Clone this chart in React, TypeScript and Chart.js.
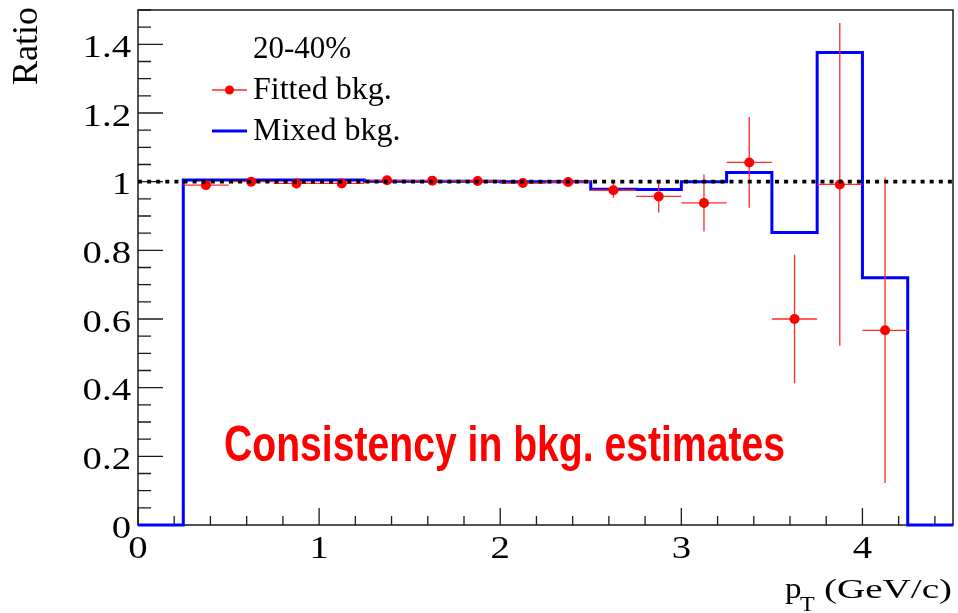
import React, { useEffect, useRef } from "react";
import { Chart, registerables } from "chart.js";

Chart.register(...registerables);

// ---- Data ----
const binEdges = [0, 0.25, 0.5, 0.75, 1.0, 1.25, 1.5, 1.75, 2.0, 2.25, 2.5, 2.75, 3.0, 3.25, 3.5, 3.75, 4.0, 4.25, 4.5];
const mixedBkg = [0, 1.005, 1.005, 1.005, 1.005, 1.001, 1.001, 1.001, 1.0, 1.0, 0.978, 0.977, 1.0, 1.027, 0.852, 1.376, 0.72, 0];

const ptCenters = [0.375, 0.625, 0.875, 1.125, 1.375, 1.625, 1.875, 2.125, 2.375, 2.625, 2.875, 3.125, 3.375, 3.625, 3.875, 4.125];
const ptHalfWidth = [0.125, 0.125, 0.125, 0.125, 0.125, 0.125, 0.125, 0.125, 0.125, 0.125, 0.125, 0.125, 0.125, 0.125, 0.125, 0.125];
const fittedBkg = [0.99, 1.0, 0.995, 0.995, 1.004, 1.003, 1.002, 0.996, 0.999, 0.975, 0.957, 0.938, 1.056, 0.6, 0.992, 0.567];
const fittedErr = [0.006, 0.004, 0.004, 0.004, 0.008, 0.005, 0.006, 0.007, 0.01, 0.022, 0.047, 0.083, 0.132, 0.187, 0.47, 0.445];

const xTickLabels = ["0", "1", "2", "3", "4"];
const yTickLabels = ["0", "0.2", "0.4", "0.6", "0.8", "1", "1.2", "1.4"];
const referenceLevel = [1, 1];
const referenceX = [0, 4.5];

const legendHeader = "20-40%";
const legendFitted = "Fitted bkg.";
const legendMixed = "Mixed bkg.";
const annotation = "Consistency in bkg. estimates";

const SERIF = '"Liberation Serif", "Times New Roman", serif';
const SANS = '"Liberation Sans", Arial, sans-serif';

function drawText(
  ctx: CanvasRenderingContext2D,
  text: string,
  x: number,
  y: number,
  font: string,
  color: string,
  align: "left" | "right" | "center",
  sx = 1,
  fitWidth?: number
) {
  ctx.save();
  ctx.font = font;
  ctx.fillStyle = color;
  ctx.textBaseline = "alphabetic";
  ctx.textAlign = "left";
  const raw = ctx.measureText(text).width;
  const scale = fitWidth ? fitWidth / raw : sx;
  const w = raw * scale;
  const left = align === "right" ? x - w : align === "center" ? x - w / 2 : x;
  ctx.translate(left, y);
  ctx.scale(scale, 1);
  ctx.fillText(text, 0, 0);
  ctx.restore();
}

const axisPlugin = {
  id: "rootAxes",
  beforeDatasetsDraw(chart: any) {
    const { ctx, chartArea: a, scales } = chart;
    const xs = scales.x;
    const ys = scales.y;
    ctx.save();
    ctx.strokeStyle = "#1a1a1a";
    ctx.lineWidth = 1.5;
    ctx.strokeRect(a.left, a.top, a.right - a.left, a.bottom - a.top);

    // y ticks (inward)
    ctx.lineWidth = 1.3;
    ctx.beginPath();
    for (let k = 0; k <= 30; k++) {
      const v = k * 0.05;
      const py = ys.getPixelForValue(v);
      const len = k % 4 === 0 ? 25 : 13;
      ctx.moveTo(a.left, py);
      ctx.lineTo(a.left + len, py);
    }
    // x ticks (inward)
    for (let k = 0; k <= 22; k++) {
      const v = k * 0.2;
      const px = xs.getPixelForValue(v);
      const len = k % 5 === 0 ? 17 : 9;
      ctx.moveTo(px, a.bottom);
      ctx.lineTo(px, a.bottom - len);
    }
    ctx.stroke();
    ctx.restore();

    // tick labels
    yTickLabels.forEach((lab) => {
      const py = ys.getPixelForValue(Number(lab));
      drawText(ctx, lab, 131, py + 12.5, `31px ${SERIF}`, "#000", "right", 1.25);
    });
    xTickLabels.forEach((lab) => {
      const px = xs.getPixelForValue(Number(lab));
      drawText(ctx, lab, px, 558, `31px ${SERIF}`, "#000", "center", 1.25);
    });

    // y title
    ctx.save();
    ctx.translate(37, 7);
    ctx.rotate(-Math.PI / 2);
    ctx.font = `36px ${SERIF}`;
    ctx.fillStyle = "#000";
    ctx.textAlign = "right";
    ctx.textBaseline = "alphabetic";
    ctx.fillText("Ratio", 0, 0);
    ctx.restore();

    // x title
    drawText(ctx, "p", 785, 598, `30px ${SERIF}`, "#000", "left", 1.1);
    drawText(ctx, "T", 800, 611, `20px ${SERIF}`, "#000", "left", 1.2);
    drawText(ctx, "(GeV/c)", 824, 598, `28px ${SERIF}`, "#000", "left", 1, 128);
  },
  afterDatasetDraw(chart: any, args: any) {
    if (args.index !== 2) return;
    const { ctx, scales } = chart;
    const xs = scales.x;
    const ys = scales.y;
    ctx.save();
    ctx.strokeStyle = "#ff2a2a";
    ctx.lineWidth = 1.3;
    ctx.beginPath();
    ptCenters.forEach((x, i) => {
      const px = xs.getPixelForValue(x);
      const py = ys.getPixelForValue(fittedBkg[i]);
      const x0 = xs.getPixelForValue(x - ptHalfWidth[i]);
      const x1 = xs.getPixelForValue(x + ptHalfWidth[i]);
      const y0 = ys.getPixelForValue(fittedBkg[i] - fittedErr[i]);
      const y1 = ys.getPixelForValue(fittedBkg[i] + fittedErr[i]);
      ctx.moveTo(x0, py);
      ctx.lineTo(x1, py);
      ctx.moveTo(px, y0);
      ctx.lineTo(px, y1);
    });
    ctx.stroke();
    ctx.restore();
  },
  afterDraw(chart: any) {
    const { ctx } = chart;
    // legend
    drawText(ctx, legendHeader, 253, 58, `31px ${SERIF}`, "#000", "left");
    ctx.save();
    ctx.strokeStyle = "#ff2a2a";
    ctx.lineWidth = 1.3;
    ctx.beginPath();
    ctx.moveTo(212, 90);
    ctx.lineTo(247, 90);
    ctx.stroke();
    ctx.fillStyle = "#ff0000";
    ctx.beginPath();
    ctx.arc(229.5, 90, 4.5, 0, Math.PI * 2);
    ctx.fill();
    ctx.strokeStyle = "#0000ff";
    ctx.lineWidth = 3;
    ctx.beginPath();
    ctx.moveTo(212, 131);
    ctx.lineTo(247, 131);
    ctx.stroke();
    ctx.restore();
    drawText(ctx, legendFitted, 253, 99, `32px ${SERIF}`, "#000", "left");
    drawText(ctx, legendMixed, 253, 140, `32px ${SERIF}`, "#000", "left");

    // annotation
    drawText(ctx, annotation, 224, 461, `bold 50px ${SANS}`, "#ff0000", "left", 1, 561);
  },
};

export default function App() {
  const ref = useRef<HTMLCanvasElement | null>(null);
  useEffect(() => {
    if (!ref.current) return;
    const histData = binEdges.map((x, i) => ({
      x,
      y: i < mixedBkg.length ? mixedBkg[i] : mixedBkg[mixedBkg.length - 1],
    }));
    const pointData = ptCenters.map((x, i) => ({ x, y: fittedBkg[i] }));
    const refData = referenceX.map((x, i) => ({ x, y: referenceLevel[i] }));
    const chart = new Chart(ref.current, {
      type: "scatter",
      data: {
        datasets: [
          {
            label: "reference",
            data: refData,
            showLine: true,
            borderColor: "#000000",
            borderWidth: 3.8,
            borderDash: [4, 5.1],
            borderCapStyle: "butt",
            pointRadius: 0,
            order: 0,
          },
          {
            label: legendFitted,
            data: pointData,
            showLine: false,
            pointRadius: 5,
            pointStyle: "circle",
            backgroundColor: "#ff0000",
            borderColor: "#ff0000",
            borderWidth: 0,
            order: 1,
          },
          {
            label: legendMixed,
            data: histData,
            showLine: true,
            stepped: true,
            borderColor: "#0000ff",
            borderWidth: 3,
            pointRadius: 0,
            fill: false,
            clip: 4,
            order: 2,
          },
        ],
      } as any,
      options: {
        responsive: false,
        animation: false,
        events: [],
        layout: { padding: { top: 10, right: 5, left: 0, bottom: 0 } },
        plugins: { legend: { display: false }, tooltip: { enabled: false } },
        scales: {
          x: {
            type: "linear",
            min: 0,
            max: 4.5,
            grid: { display: false },
            border: { display: false },
            ticks: { display: false },
            afterFit: (s: any) => {
              s.height = 88;
            },
          },
          y: {
            type: "linear",
            min: 0,
            max: 1.5,
            grid: { display: false },
            border: { display: false },
            ticks: { display: false },
            afterFit: (s: any) => {
              s.width = 138;
            },
          },
        },
      } as any,
      plugins: [axisPlugin],
    });
    return () => chart.destroy();
  }, []);
  return (
    <div style={{ position: "absolute", left: 0, top: 0, width: 958, height: 613, background: "#fff" }}>
      <canvas ref={ref} width={958} height={613} />
    </div>
  );
}
